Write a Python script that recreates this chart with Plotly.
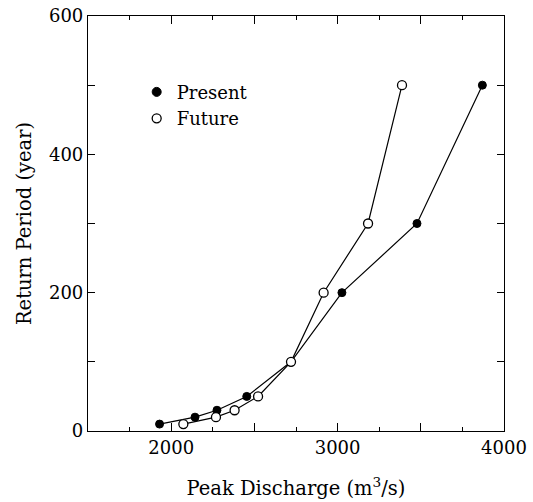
import plotly.graph_objects as go

return_period = [10, 20, 30, 50, 100, 200, 300, 500]
present_q = [1930, 2143, 2275, 2454, 2720, 3026, 3477, 3870]
future_q = [2073, 2269, 2381, 2522, 2720, 2916, 3183, 3387]

x_label_vals = [2000, 3000, 4000]
x_unlabeled_major = [1500, 2500, 3500]
y_label_vals = [0, 200, 400, 600]

FONT = "DejaVu Serif, Liberation Serif, serif"

fig = go.Figure()
fig.add_trace(go.Scatter(
    x=present_q, y=return_period, mode="lines+markers", showlegend=False,
    line=dict(color="black", width=1.2),
    marker=dict(symbol="circle", size=8, color="black", line=dict(color="black", width=1)),
))
fig.add_trace(go.Scatter(
    x=future_q, y=return_period, mode="lines+markers", showlegend=False,
    line=dict(color="black", width=1.2),
    marker=dict(symbol="circle", size=9, color="white", line=dict(color="black", width=1.3)),
))
fig.add_trace(go.Scatter(
    x=[None], y=[None], mode="markers", name="Present",
    marker=dict(symbol="circle", size=9, color="black", line=dict(color="black", width=1)),
))
fig.add_trace(go.Scatter(
    x=[None], y=[None], mode="markers", name="Future",
    marker=dict(symbol="circle", size=9, color="white", line=dict(color="black", width=1.3)),
))
# invisible trace to activate the overlay axis carrying the unlabeled long ticks
fig.add_trace(go.Scatter(x=[None], y=[None], xaxis="x2", showlegend=False, hoverinfo="skip"))

axis_common = dict(
    showgrid=False, zeroline=False, showline=True, linecolor="black", linewidth=1.2,
    mirror="allticks", ticks="inside", tickcolor="black", tickwidth=1, automargin=False,
    ticklabeloverflow="allow",
    tickfont=dict(family=FONT, size=18, color="black"),
)

fig.update_layout(
    width=533, height=502,
    margin=dict(l=88, r=29, t=16, b=71),
    paper_bgcolor="white", plot_bgcolor="white",
    font=dict(family=FONT, size=18, color="black"),
    xaxis=dict(
        range=[1500, 4000], tickmode="array", tickvals=x_label_vals,
        ticklen=8, minor=dict(dtick=250, tick0=1500, ticks="inside", ticklen=4, tickcolor="black"),
        title=dict(text="Peak Discharge (m<sup>3</sup>/s)", font=dict(family=FONT, size=19.5), standoff=24),
        **axis_common,
    ),
    xaxis2=dict(
        range=[1500, 4000], overlaying="x", side="bottom", tickmode="array",
        tickvals=x_unlabeled_major, showticklabels=False, showgrid=False, zeroline=False,
        showline=False, mirror="allticks", ticks="inside", ticklen=8, tickcolor="black",
        tickwidth=1, automargin=False,
    ),
    yaxis=dict(
        range=[0, 600], tickmode="array", tickvals=y_label_vals,
        ticklen=7, minor=dict(dtick=100, tick0=0, ticks="inside", ticklen=7, tickcolor="black"),
        title=dict(text="Return Period (year)", font=dict(family=FONT, size=19.5), standoff=12),
        **axis_common,
    ),
    legend=dict(
        x=0.117, y=0.861, xanchor="left", yanchor="top", bgcolor="rgba(0,0,0,0)",
        font=dict(family=FONT, size=18), itemwidth=30, tracegroupgap=0,
    ),
)

fig.write_html(
    "out.html",
    config={"displayModeBar": False},
    post_script="document.body.style.margin='0';document.body.style.overflow='hidden';",
)
